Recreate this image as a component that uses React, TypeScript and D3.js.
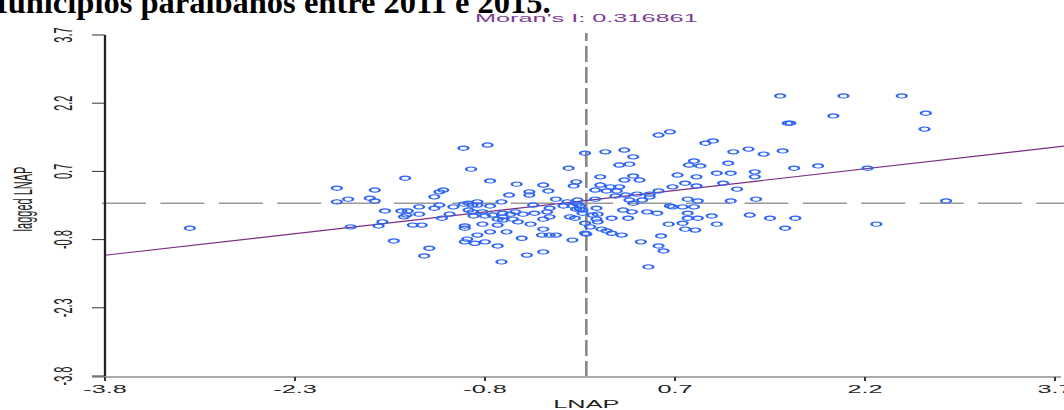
import React from 'react';
import * as d3 from 'd3';

const lnap = [
  -3.13, -1.97, -1.97, -1.88, -1.86, -1.67, -1.71, -1.67, -1.64, -1.61,
  -1.59, -1.52, -1.43, -1.46, -1.41, -1.42, -1.44, -1.37, -1.30, -1.32,
  -1.32, -1.28, -1.24, -1.20, -1.16, -1.13, -1.20, -1.16, -1.14, -1.08,
  -1.05, -0.97, -0.78, -0.91, -0.97, -0.93, -0.86, -0.90, -0.93, -0.90,
  -0.82, -0.86, -0.76, -0.76, -0.67, -0.66, -0.89, -0.80, -0.74, -0.60,
  -0.56, -0.50, -0.41, -0.31, -0.58, -0.66, -0.66, -0.70, -0.54, -0.44,
  -0.34, -0.29, -0.24, -0.42, -0.29, -0.18, -0.15, -0.07, -0.08, -0.03,
  -0.09, -0.07, -0.55, -0.34, -0.14, -0.08, -0.10, -0.45, -0.45, -0.30,
  -0.61, -0.96, -0.96, -0.82, -0.70, -0.63, -0.76, -0.86, -0.94, -0.96,
  -0.88, -0.80, -0.70, -0.51, -0.35, -0.29, -0.24, -0.11, -0.34, -0.67,
  -0.47, -0.34, -0.01,
  0.57, 0.66, 0.94, 1.00, -0.01, 0.15, 0.30, 0.37, 0.26, 0.34,
  1.16, 1.28, 1.40, 1.55, 0.85, 0.81, 0.90, 1.12, 1.83, 1.64,
  0.11, 0.37, 0.30, 0.42, 0.72, 0.87, 1.03, 1.14, 1.33, 1.33,
  1.08, 0.78, 0.11, 0.19, 0.26, 0.16, 0.07, 0.24, 0.68, 0.87,
  1.19, 0.57, 0.50, 0.40, 0.31, 0.23, 0.07, 0.34, 0.44, 0.37,
  0.50, 0.80, 0.88, 1.14, 1.34, -0.11, -0.05, -0.05, 0.08, 0.29,
  0.36, 0.48, 0.56, 0.66, 0.68, 0.76, 0.85, 0.80, -0.13, 0.05,
  0.08, 0.20, 0.33, 0.88, 0.99, 1.29, 1.45, 1.65, 0.80, -0.01,
  0.09, 0.03, 0.12, 0.16, 0.20, 0.65, 0.76, 1.03, 0.78, 0.86,
  1.57, 0.00, 0.28, 0.59, 0.43, 0.57, 0.61, 0.49, -0.03, 0.09,
  2.03, 2.49, 1.53, 1.59, 1.61, 1.95, 2.68, 2.67, 2.22, 2.84, 2.29,
];

const laggedLnap = [
  -0.55, 0.33, 0.03, 0.09, -0.52, 0.29, 0.11, 0.05, -0.50, -0.41,
  -0.17, -0.83, 0.55, -0.17, -0.17, -0.26, -0.30, -0.48, -0.48, -0.08,
  -0.24, -1.16, -0.99, 0.14, 0.25, 0.29, -0.11, -0.04, -0.33, -0.24,
  -0.08, 1.21, 1.28, 0.75, -0.02, 0.00, 0.03, -0.04, -0.15, -0.19,
  -0.19, -0.04, -0.06, 0.49, 0.03, -0.22, -0.28, -0.28, -0.26, -0.24,
  -0.19, -0.24, -0.22, -0.19, -0.35, -0.37, -0.30, -0.35, -0.41, -0.46,
  -0.35, -0.30, 0.09, -0.04, -0.11, -0.06, 0.03, 0.07, -0.13, -0.22,
  -0.33, -0.02, 0.42, 0.40, 0.77, 0.47, 0.38, 0.25, 0.18, 0.27,
  0.18, -0.50, -0.55, -0.46, -0.48, -0.63, -0.63, -0.70, -0.79, -0.85,
  -0.88, -0.85, -0.94, -0.77, -0.70, -0.70, -0.70, -0.81, -0.57, -1.29,
  -1.14, -1.07, -0.66,
  1.50, 1.57, 1.32, 1.37, 1.10, 1.13, 1.17, 1.02, 0.84, 0.86,
  1.13, 1.19, 1.08, 1.15, 0.93, 0.84, 0.82, 0.88, 0.82, 0.77,
  0.58, 0.60, 0.51, 0.51, 0.62, 0.58, 0.66, 0.66, 0.69, 0.58,
  0.44, 0.44, 0.40, 0.36, 0.36, 0.27, 0.29, 0.27, 0.36, 0.38,
  0.31, 0.27, 0.20, 0.20, 0.18, 0.16, 0.09, 0.07, 0.07, 0.00,
  0.14, 0.09, 0.05, 0.05, 0.09, -0.06, -0.06, -0.13, -0.11, -0.15,
  -0.19, -0.19, -0.22, -0.06, -0.08, -0.08, -0.08, -0.22, -0.30, -0.26,
  -0.35, -0.33, -0.33, -0.33, -0.28, -0.26, -0.33, -0.33, -0.33, -0.44,
  -0.41, -0.52, -0.57, -0.61, -0.66, -0.46, -0.44, -0.46, -0.57, -0.59,
  -0.55, -0.68, -0.70, -0.72, -0.85, -0.94, -1.05, -1.40, -0.15, -0.24,
  2.36, 2.36, 2.36, 1.76, 1.76, 1.92, 1.98, 1.63, 0.77, 0.05, -0.46,
];

const tickValues = [-3.8, -2.3, -0.8, 0.7, 2.2, 3.7];
const tickLabels = ['-3.8', '-2.3', '-0.8', '0.7', '2.2', '3.7'];
const moranI = 0.316861;
const intercept = 0.06;

const W = 1064;
const H = 410;
const STRETCH = 2.3; // the original figure is stretched sideways
const FONT = 'Liberation Sans, Arial, sans-serif';

const App: React.FC = () => {
  const x = d3.scaleLinear().domain([-3.8, 3.7]).range([105, 1055]);
  const y = d3.scaleLinear().domain([-3.8, 3.7]).range([376, 35]);

  const xEnd = x.invert(W);
  const reg = d3.line<number>()
    .x(d => x(d))
    .y(d => y(intercept + moranI * d));

  const points = lnap.map((v, i) => ({ x: v, y: laggedLnap[i] }));

  const stretched = (px: number, py: number, rot = 0) =>
    `translate(${px},${py}) scale(${STRETCH},1)` + (rot ? ` rotate(${rot})` : '');

  return (
    <svg width={W} height={H} style={{ position: 'absolute', left: 0, top: 0, background: '#fff' }}>
      {/* cut-off title of the document */}
      <text x={-23} y={13} fontFamily="Liberation Serif, Times New Roman, serif"
        fontWeight="bold" fontSize={32.5} fill="#000">
        Municípios paraibanos entre 2011 e 2015.
      </text>

      <text transform={stretched(x(0), 22)} textAnchor="middle" fontFamily={FONT}
        fontSize={11} fill="#7a3c96">
        Moran's I: {moranI}
      </text>

      {/* reference lines at the means */}
      <line x1={102} x2={W} y1={y(0)} y2={y(0)} stroke="#9a9a9a" strokeWidth={1.3}
        strokeDasharray="44,14.4" />
      <line x1={x(0)} x2={x(0)} y1={33} y2={376} stroke="#888" strokeWidth={2.6}
        strokeDasharray="16,5" strokeDashoffset={8} />

      {/* regression line, slope = Moran's I */}
      <path d={reg([-3.8, xEnd]) || ''} fill="none" stroke="#7b2c83" strokeWidth={1.2} />

      {points.map((p, i) => (
        <circle key={i} r={2.1} transform={stretched(x(p.x), y(p.y))}
          fill="none" stroke="#2f66f5" strokeWidth={1.15} />
      ))}

      {/* y axis */}
      <line x1={105} x2={105} y1={y(3.7)} y2={y(-3.8)} stroke="#222" strokeWidth={2.3} />
      {tickValues.map((t, i) => (
        <g key={'yt' + i}>
          <line x1={92} x2={105} y1={y(t)} y2={y(t)} stroke="#333" strokeWidth={1} />
          <text transform={stretched(63, y(t), -90)} textAnchor="middle"
            dominantBaseline="central" fontFamily={FONT} fontSize={11} fill="#222">
            {tickLabels[i]}
          </text>
        </g>
      ))}
      <text transform={stretched(23, 199, -90)} textAnchor="middle" dominantBaseline="central"
        fontFamily={FONT} fontSize={11} fill="#222">
        lagged LNAP
      </text>

      {/* x axis */}
      <line x1={92} x2={1061} y1={377} y2={377} stroke="#555" strokeWidth={1} />
      {tickValues.map((t, i) => (
        <g key={'xt' + i}>
          <line x1={x(t)} x2={x(t)} y1={377} y2={381} stroke="#333" strokeWidth={2} />
          <text transform={stretched(x(t), 393)} textAnchor="middle" fontFamily={FONT}
            fontSize={11} fill="#222">
            {tickLabels[i]}
          </text>
        </g>
      ))}
      <text transform={stretched(x(0), 408)} textAnchor="middle" fontFamily={FONT}
        fontSize={11} fill="#222">
        LNAP
      </text>
    </svg>
  );
};

export default App;
